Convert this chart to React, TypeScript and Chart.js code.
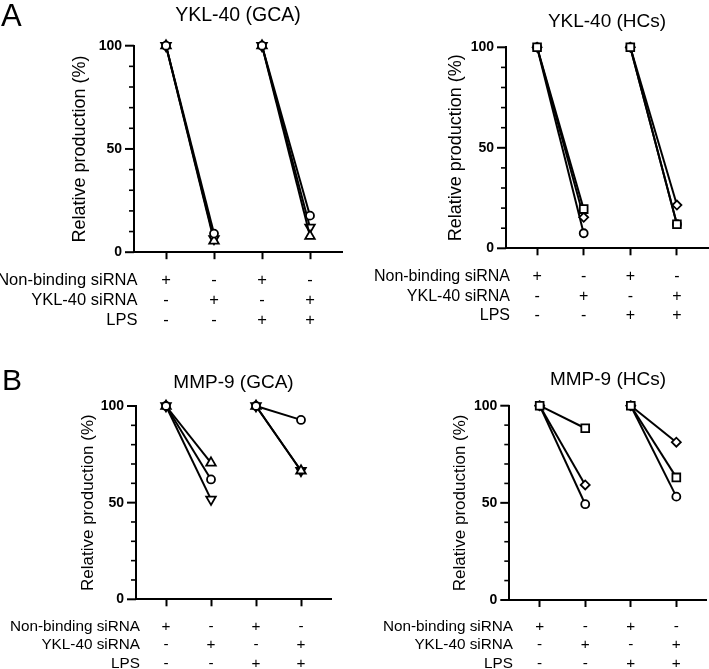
import React, { useEffect, useRef } from "react";
import { Chart, registerables } from "chart.js";

Chart.register(...registerables);

// ---------- data ----------
const xGroups = [0, 1, 2, 3];
const yMajorTicks = [0, 50, 100];
const rowLabels = ["Non-binding siRNA", "YKL-40 siRNA", "LPS"];
const nonBindingRow = ["+", "-", "+", "-"];
const ykl40Row = ["-", "+", "-", "+"];
const lpsRow = ["-", "-", "+", "+"];
const tableRows = [nonBindingRow, ykl40Row, lpsRow];

const panelTitles = ["YKL-40 (GCA)", "YKL-40 (HCs)", "MMP-9 (GCA)", "MMP-9 (HCs)"];
const yAxisTitle = "Relative production (%)";

// YKL-40 (GCA)
const yklGcaCircle = [100, 9, 100, 17.7];
const yklGcaTriUp = [100, 5.5, 100, 7.8];
const yklGcaTriDown = [100, 6.5, 100, 12];
// YKL-40 (HCs)
const yklHcSquare = [100, 19.5, 100, 12];
const yklHcDiamond = [100, 15.4, 100, 21.5];
const yklHcCircle = [100, 7.5, 100, 12];
// MMP-9 (GCA)
const mmpGcaCircle = [100, 62, 100, 92.8];
const mmpGcaTriUp = [100, 70.6, 100, 66.5];
const mmpGcaTriDown = [100, 51.7, 100, 66.5];
// MMP-9 (HCs)
const mmpHcSquare = [100, 88.4, 100, 63.1];
const mmpHcDiamond = [100, 59.2, 100, 81.2];
const mmpHcCircle = [100, 49.3, 100, 53.2];

// ---------- styling ----------
const FONT = "'Liberation Sans', Arial, Helvetica, sans-serif";

type Series = { values: number[]; style: string; rotation?: number; radius: number };
type PanelSpec = {
  title: string;
  series: Series[];
  box: [number, number, number, number];
  area: { left: number; top: number; right: number; bottom: number };
  titleBaseline: number;
  titleSize: number;
  yTitleX: number;
  yTitleSize: number;
  rowY: number[];
  rowRight: number;
  rowSize: number;
  letter?: { text: string; x: number; baseline: number; size: number };
};

const circle = (v: number[]): Series => ({ values: v, style: "circle", radius: 4 });
const triUp = (v: number[]): Series => ({ values: v, style: "triangle", radius: 5.5 });
const triDown = (v: number[]): Series => ({ values: v, style: "triangle", rotation: 180, radius: 5.5 });
const square = (v: number[]): Series => ({ values: v, style: "rect", radius: 5.5 });
const diamond = (v: number[]): Series => ({ values: v, style: "rectRot", radius: 4.5 });

const panels: PanelSpec[] = [
  {
    title: panelTitles[0],
    series: [circle(yklGcaCircle), triUp(yklGcaTriUp), triDown(yklGcaTriDown)],
    box: [0, 0, 354, 335],
    area: { left: 134, top: 45.7, right: 342, bottom: 252.2 },
    titleBaseline: 20.7,
    titleSize: 19.5,
    yTitleX: 80,
    yTitleSize: 18,
    rowY: [279.3, 299, 319],
    rowRight: 137.5,
    rowSize: 16.5,
    letter: { text: "A", x: 1, baseline: 26, size: 31 },
  },
  {
    title: panelTitles[1],
    series: [square(yklHcSquare), diamond(yklHcDiamond), circle(yklHcCircle)],
    box: [354, 0, 355, 335],
    area: { left: 506, top: 47.3, right: 708, bottom: 248.3 },
    titleBaseline: 27.3,
    titleSize: 19,
    yTitleX: 456,
    yTitleSize: 18,
    rowY: [275, 295, 314],
    rowRight: 510,
    rowSize: 16,
  },
  {
    title: panelTitles[2],
    series: [circle(mmpGcaCircle), triUp(mmpGcaTriUp), triDown(mmpGcaTriDown)],
    box: [0, 335, 354, 334],
    area: { left: 136, top: 406, right: 331, bottom: 599.3 },
    titleBaseline: 388,
    titleSize: 19,
    yTitleX: 88,
    yTitleSize: 17,
    rowY: [626, 644, 662.5],
    rowRight: 140,
    rowSize: 15.3,
    letter: { text: "B", x: 2, baseline: 390, size: 30 },
  },
  {
    title: panelTitles[3],
    series: [square(mmpHcSquare), diamond(mmpHcDiamond), circle(mmpHcCircle)],
    box: [354, 335, 355, 334],
    area: { left: 509.3, top: 405.7, right: 706.7, bottom: 600 },
    titleBaseline: 385,
    titleSize: 19,
    yTitleX: 460,
    yTitleSize: 17,
    rowY: [626, 644, 662.5],
    rowRight: 513,
    rowSize: 15.3,
  },
];

function Panel({ spec }: { spec: PanelSpec }) {
  const ref = useRef<HTMLCanvasElement>(null);

  useEffect(() => {
    const canvas = ref.current;
    if (!canvas) return;
    const [cx, cy, cw, ch] = spec.box;
    const a = spec.area;
    const yW = 40;
    const xH = 10;

    const decor = {
      id: "panelDecor",
      afterDraw(chart: any) {
        const ctx = chart.ctx as CanvasRenderingContext2D;
        const xs = chart.scales.x;
        const ys = chart.scales.y;
        ctx.save();
        ctx.fillStyle = "#000";
        ctx.strokeStyle = "#000";

        // y tick marks (major long, minor short)
        ys.ticks.forEach((t: any) => {
          const py = ys.getPixelForValue(t.value);
          const major = yMajorTicks.includes(t.value);
          const len = major ? 9 : 5;
          ctx.lineWidth = major ? 2 : 1.6;
          ctx.beginPath();
          ctx.moveTo(ys.right - len, py);
          ctx.lineTo(ys.right, py);
          ctx.stroke();
        });

        // title
        ctx.font = `${spec.titleSize}px ${FONT}`;
        ctx.textAlign = "center";
        ctx.textBaseline = "alphabetic";
        ctx.fillText(spec.title, (xs.left + xs.right) / 2, spec.titleBaseline - cy);

        // y-axis title
        ctx.save();
        ctx.translate(spec.yTitleX - cx, (ys.top + ys.bottom) / 2);
        ctx.rotate(-Math.PI / 2);
        ctx.font = `${spec.yTitleSize}px ${FONT}`;
        ctx.textAlign = "center";
        ctx.textBaseline = "middle";
        ctx.fillText(yAxisTitle, 0, 0);
        ctx.restore();

        // condition table
        ctx.font = `${spec.rowSize}px ${FONT}`;
        ctx.textBaseline = "alphabetic";
        const capOff = spec.rowSize * 0.358;
        tableRows.forEach((row, r) => {
          const by = spec.rowY[r] - cy + capOff;
          ctx.textAlign = "right";
          ctx.fillText(rowLabels[r], spec.rowRight - cx, by);
          ctx.textAlign = "center";
          row.forEach((sym, i) => {
            ctx.fillText(sym, xs.getPixelForValue(xGroups[i]), by);
          });
        });

        // panel letter
        if (spec.letter) {
          ctx.font = `${spec.letter.size}px ${FONT}`;
          ctx.textAlign = "left";
          ctx.fillText(spec.letter.text, spec.letter.x - cx, spec.letter.baseline - cy);
        }
        ctx.restore();
      },
    };

    const chart = new Chart(canvas, {
      type: "line",
      data: {
        datasets: spec.series.map((s) => ({
          data: xGroups.map((x, i) => ({ x, y: s.values[i] })),
          borderColor: "#000",
          borderWidth: 2,
          pointStyle: s.style as any,
          pointRotation: s.rotation || 0,
          pointRadius: s.radius,
          pointBorderWidth: 1.8,
          pointBackgroundColor: "#fff",
          pointBorderColor: "#000",
          tension: 0,
          clip: false as any,
          segment: {
            borderColor: (c: any) => (c.p0DataIndex === 1 ? "rgba(0,0,0,0)" : "#000"),
          },
        })),
      },
      options: {
        responsive: false,
        animation: false,
        devicePixelRatio: 1,
        events: [],
        layout: {
          autoPadding: false,
          padding: {
            left: a.left - cx - yW,
            top: a.top - cy,
            right: cx + cw - a.right,
            bottom: cy + ch - a.bottom - xH,
          },
        },
        plugins: {
          legend: { display: false },
          tooltip: { enabled: false },
          title: { display: false },
        },
        scales: {
          x: {
            type: "linear",
            min: -2 / 3,
            max: 3 + 2 / 3,
            afterBuildTicks: (s: any) => {
              s.ticks = xGroups.map((v) => ({ value: v }));
            },
            afterFit: (s: any) => {
              s.height = xH;
            },
            ticks: { display: false },
            grid: {
              drawOnChartArea: false,
              drawTicks: true,
              tickLength: 7,
              tickWidth: 2,
              tickColor: "#000",
            },
            border: { display: true, color: "#000", width: 2 },
          },
          y: {
            type: "linear",
            min: 0,
            max: 100,
            afterFit: (s: any) => {
              s.width = yW;
            },
            ticks: {
              stepSize: 10,
              autoSkip: false,
              padding: 12,
              color: "#000",
              font: { family: FONT, size: 14, weight: "bold" },
              callback: (v: any) => (yMajorTicks.includes(Number(v)) ? String(v) : ""),
            },
            grid: { drawOnChartArea: false, drawTicks: false },
            border: { display: true, color: "#000", width: 2 },
          },
        },
      },
      plugins: [decor],
    });
    return () => chart.destroy();
  }, [spec]);

  const [cx, cy, cw, ch] = spec.box;
  return (
    <canvas
      ref={ref}
      width={cw}
      height={ch}
      style={{ position: "absolute", left: cx, top: cy, width: cw, height: ch }}
    />
  );
}

export default function App() {
  return (
    <div
      style={{
        position: "absolute",
        left: 0,
        top: 0,
        width: 709,
        height: 669,
        overflow: "hidden",
        background: "#fff",
      }}
    >
      {panels.map((p, i) => (
        <Panel key={i} spec={p} />
      ))}
    </div>
  );
}
